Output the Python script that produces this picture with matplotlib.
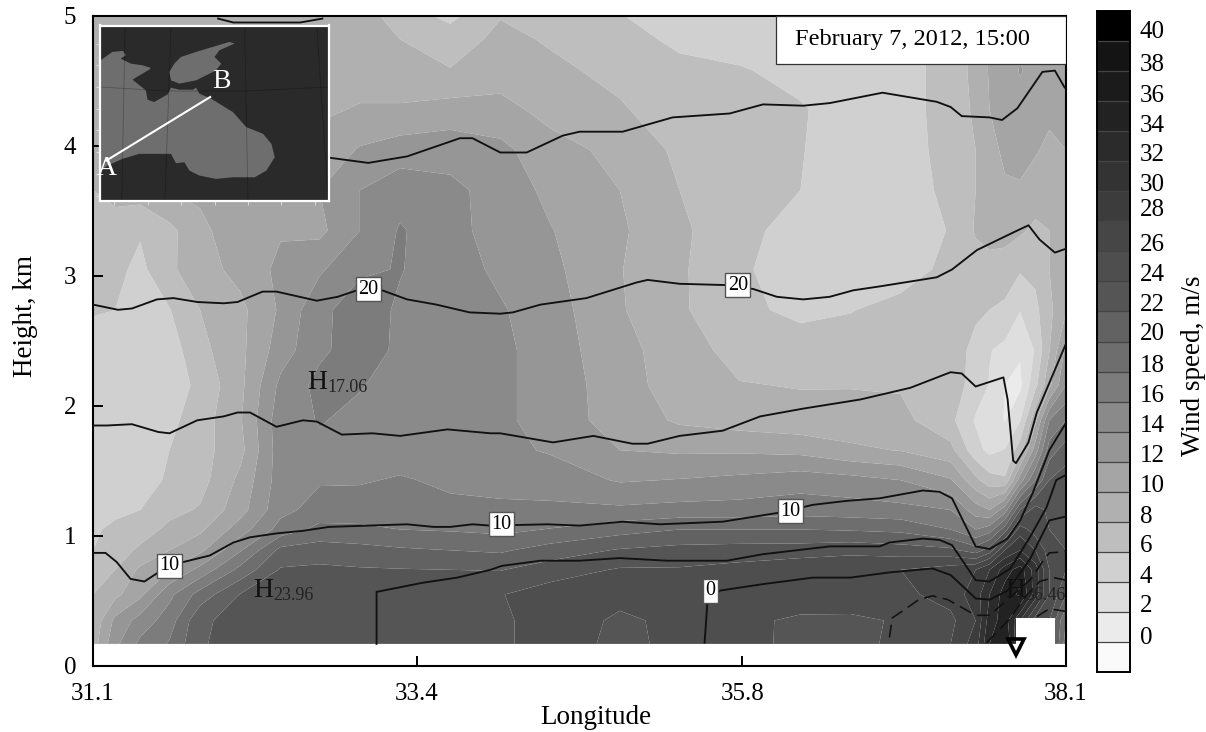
import matplotlib
matplotlib.use("Agg")
import numpy as np
import matplotlib.pyplot as plt
from matplotlib.colors import ListedColormap, BoundaryNorm
from matplotlib.patches import Rectangle, Polygon

plt.rcParams['font.family'] = ['Liberation Serif', 'DejaVu Serif']

# ---------- wind speed field ----------
lon_grid = [31.10, 31.26, 31.44, 31.65, 31.87, 32.16, 32.45, 32.73, 33.02, 33.31, 33.67, 34.03, 34.39, 34.89,
            35.32, 35.75, 36.19, 36.55, 36.91, 37.27, 37.45, 37.55, 37.66, 37.77, 37.88, 37.98, 38.10]
h_grid = [0.17, 0.35, 0.55, 0.74, 0.89, 1.05, 1.20, 1.43, 1.66, 1.89, 2.16, 2.43, 2.74, 3.05, 3.35, 3.66,
          3.97, 4.28, 4.58, 4.82, 5.00]
speed_h017 = [9, 13.5, 16.5, 18.2, 21.8, 22.8, 23, 23, 23.2, 23.2, 23.2, 23.6, 25, 23.5, 24.5, 24.5, 23.6, 23.6, 24.3, 26, 29, 34, 36, 30, 25, 24, 17]
speed_h035 = [8.5, 12.5, 14.8, 17, 21.6, 22.8, 23, 23, 23, 23, 23, 23.6, 25, 23.7, 24.4, 24.4, 23.7, 23.6, 24.2, 25.5, 28, 33, 35, 30, 25, 24, 18]
speed_h055 = [8, 9.5, 11.5, 15.5, 18.8, 22.1, 23, 23, 23, 23, 23, 23.9, 25, 24.5, 24.6, 24.7, 25, 25.2, 25.5, 26.8, 29, 32, 35, 36.4, 31, 26, 22]
speed_h074 = [6.8, 8, 10.4, 12, 14.6, 18.6, 22.2, 22.4, 22.2, 22.1, 22, 21.9, 23, 24.2, 24.2, 24.7, 25.5, 25.7, 26, 27, 28, 30, 33, 35, 31, 26, 24]
speed_h089 = [6, 7, 8.4, 10, 11.5, 15.8, 20.6, 21, 20.7, 20.3, 20, 19.7, 20.9, 22.2, 22.7, 22.9, 23, 23.4, 23, 22.5, 21, 23, 28, 30, 28, 25, 24]
speed_h105 = [5.6, 6.6, 7, 8.5, 9.6, 13, 16.8, 18.6, 18.4, 18, 17.8, 17.5, 18.1, 19.2, 20, 20, 20, 19.8, 19.5, 18, 16, 17, 21, 27, 25, 24, 24]
speed_h120 = [5.2, 5.4, 6, 7.4, 8.2, 11.2, 15.4, 16.8, 17, 17.2, 16.5, 16.3, 16.4, 16.4, 16.7, 16.8, 17.1, 16.9, 16.6, 16, 13, 12, 15, 22, 25, 23.5, 24]
speed_h143 = [5.2, 5.3, 5.4, 6.2, 7.2, 10.5, 15, 15.8, 15.8, 16.2, 15.6, 15.5, 15.1, 13.8, 14.1, 14.5, 15.1, 14.7, 14, 12.2, 8.5, 6.8, 6.3, 13, 18, 22, 23]
speed_h166 = [4.8, 4.8, 5, 6, 7.2, 9.4, 15.1, 15.7, 15.2, 15, 14.8, 14.5, 13.8, 12, 11.7, 11.7, 11.4, 10.4, 9.9, 8.6, 4.7, 3.5, 4.1, 7, 13, 19, 21]
speed_h189 = [4.8, 4.8, 4.8, 5.5, 7, 9.8, 15.2, 16.1, 15.6, 15.2, 14.9, 14.5, 13, 11.2, 9.7, 9.1, 8.7, 8.8, 8.6, 6.5, 3.8, 3, 1.9, 3.9, 9.5, 16, 18]
speed_h216 = [4.8, 4.7, 4.7, 4.9, 6.5, 9.5, 14.5, 16.6, 16.1, 15.4, 14.9, 14.4, 13.2, 10.9, 9, 8.1, 7.9, 7.9, 7.8, 7.3, 5, 3.9, 2, 1.6, 5.5, 9.5, 14]
speed_h243 = [5, 5, 4.8, 5, 7.4, 9.5, 13, 15.6, 17, 15.6, 15, 14.5, 13, 10.7, 8.9, 7.3, 7, 7, 7, 6.9, 5.5, 4.1, 3.5, 2.2, 4.2, 7.9, 12.5]
speed_h274 = [6.2, 6, 4.9, 5.9, 8, 9.5, 12.3, 15.5, 17, 15.7, 15.2, 14.2, 12.9, 10.2, 8.3, 6.5, 5.5, 5.9, 6.7, 7, 6.3, 6, 5.6, 4.1, 5.5, 7.5, 9.8]
speed_h305 = [7.5, 6.5, 5.5, 7.6, 9.2, 10.6, 12.5, 13.7, 15.7, 16.1, 14.9, 13.6, 12.5, 10.1, 8.3, 6.3, 5, 5, 5, 6.6, 7.2, 7.2, 7.1, 6.2, 6.5, 8, 10]
speed_h335 = [7.5, 6.6, 6.2, 7.5, 9.4, 11.5, 11.8, 11.5, 14, 16.2, 14.7, 13.1, 12.1, 10.3, 8.4, 6.6, 5.2, 5, 5, 6.1, 8.2, 8.8, 8.7, 8.3, 7.6, 8, 9.5]
speed_h366 = [8, 9, 9, 10, 10.5, 11, 11.5, 12, 14, 15.2, 14.5, 13.2, 11.5, 10, 8, 6.5, 6, 5, 5, 6.5, 8, 9, 9.8, 9.8, 9, 8.7, 10]
speed_h397 = [9, 10, 10, 10.5, 10.5, 10.5, 10.5, 10.5, 12.2, 13, 13.2, 12.5, 10.8, 9.4, 7.6, 6.5, 6.1, 5, 5, 6.8, 8, 9.5, 10.3, 10.6, 10.2, 9.5, 10]
speed_h428 = [10, 10, 10, 10, 10, 10, 10, 9.8, 10.1, 10.2, 10.8, 10.7, 9.3, 8.2, 7, 6.5, 6.2, 5, 5, 7, 8.3, 10, 11, 11, 10.5, 10.5, 10.3]
speed_h458 = [9.5, 9.5, 9.5, 9.5, 9.5, 9.5, 9.5, 9.5, 9.5, 9, 8.1, 9, 8.4, 7.5, 6.5, 6.2, 5.3, 5, 5, 7, 8.5, 10.2, 10.5, 12.2, 11, 11, 10.5]
speed_h482 = [9.5, 9.5, 9.5, 9.5, 9.5, 9.5, 9.5, 9.5, 9, 8, 7, 8.5, 7.8, 6.7, 5.6, 5, 5, 5, 5, 7, 8.5, 10.2, 10.5, 11.5, 11, 11, 10.5]
speed_h500 = [9, 9, 9, 9, 9, 9, 9, 9, 9, 7, 5.5, 7.9, 7.2, 6.1, 5, 4.8, 5, 5, 5, 6.5, 8.2, 10.2, 10.5, 11, 12, 11, 10.5]

# ---------- isolines ----------
line_top_lon = [32.80, 33.08, 33.36, 33.74, 33.83, 34.03, 34.22, 34.48, 34.60, 34.91, 35.27, 35.68, 35.92, 36.21, 36.40, 36.78, 37.17, 37.27, 37.35, 37.55, 37.64, 37.75, 37.93, 38.02, 38.09]
line_top_h = [3.91, 3.87, 3.92, 4.06, 4.06, 3.95, 3.95, 4.08, 4.11, 4.11, 4.22, 4.25, 4.32, 4.31, 4.33, 4.41, 4.34, 4.30, 4.23, 4.22, 4.20, 4.29, 4.57, 4.58, 4.45]
line_arc_lon = [32.00, 32.11, 32.25, 32.59, 32.75]
line_arc_h = [4.98, 4.95, 4.95, 4.95, 4.98]
line_20_lon = [31.10, 31.28, 31.38, 31.56, 31.68, 31.85, 32.04, 32.14, 32.32, 32.42, 32.71, 32.86, 33.00, 33.18, 33.36, 33.57, 33.81, 34.03, 34.12, 34.32, 34.65, 35.01, 35.09, 35.32, 35.66, 35.85, 36.02, 36.21, 36.40, 36.57, 36.76, 37.17, 37.28, 37.46, 37.75, 37.83, 37.91, 38.02, 38.10]
line_20_h = [2.78, 2.74, 2.75, 2.82, 2.83, 2.80, 2.79, 2.80, 2.88, 2.88, 2.81, 2.84, 2.89, 2.89, 2.82, 2.78, 2.72, 2.71, 2.72, 2.78, 2.83, 2.95, 2.97, 2.94, 2.93, 2.90, 2.84, 2.82, 2.84, 2.89, 2.92, 2.99, 3.05, 3.20, 3.35, 3.39, 3.28, 3.18, 3.21]
line_mid_lon = [31.10, 31.20, 31.38, 31.57, 31.65, 31.85, 32.04, 32.14, 32.23, 32.42, 32.61, 32.71, 32.89, 33.11, 33.31, 33.65, 33.96, 34.03, 34.41, 34.70, 34.98, 35.09, 35.32, 35.63, 35.90, 36.21, 36.62, 36.98, 37.27, 37.35, 37.45, 37.65, 37.68, 37.72, 37.74, 37.83, 37.89, 38.10]
line_mid_h = [1.85, 1.85, 1.86, 1.80, 1.79, 1.89, 1.92, 1.95, 1.95, 1.84, 1.89, 1.88, 1.78, 1.79, 1.77, 1.82, 1.79, 1.79, 1.72, 1.77, 1.71, 1.71, 1.77, 1.81, 1.92, 1.98, 2.05, 2.14, 2.26, 2.25, 2.15, 2.22, 2.05, 1.58, 1.56, 1.72, 1.95, 2.48]
line_10_lon = [31.10, 31.19, 31.27, 31.37, 31.47, 31.57, 31.75, 31.94, 32.11, 32.23, 32.42, 32.61, 32.80, 33.36, 33.55, 33.67, 33.83, 33.96, 34.37, 34.60, 34.91, 35.18, 35.63, 36.04, 36.28, 36.52, 36.76, 37.07, 37.19, 37.28, 37.45, 37.55, 37.68, 37.77, 37.86, 37.98, 38.10]
line_10_h = [0.87, 0.87, 0.80, 0.67, 0.65, 0.72, 0.80, 0.85, 0.95, 0.99, 1.02, 1.04, 1.07, 1.09, 1.07, 1.07, 1.09, 1.08, 1.09, 1.08, 1.11, 1.09, 1.11, 1.18, 1.24, 1.27, 1.29, 1.35, 1.34, 1.29, 0.92, 0.90, 0.98, 1.12, 1.33, 1.66, 1.87]
line_low_lon = [33.14, 33.14, 33.47, 33.72, 33.96, 34.04, 34.32, 34.60, 34.89, 35.23, 35.66, 35.92, 36.40, 36.76, 36.83, 37.07, 37.19, 37.28, 37.45, 37.55, 37.70, 37.84, 37.96, 38.03, 38.10]
line_low_h = [0.17, 0.57, 0.64, 0.68, 0.74, 0.77, 0.81, 0.81, 0.83, 0.81, 0.81, 0.86, 0.92, 0.92, 0.95, 0.98, 0.97, 0.93, 0.66, 0.65, 0.75, 0.99, 1.22, 1.43, 1.47]
line_0_lon = [35.50, 35.52, 35.61, 35.92, 36.28, 36.55, 36.83, 37.14, 37.27, 37.45, 37.55, 37.68, 37.84, 37.98, 38.10]
line_0_h = [0.18, 0.49, 0.58, 0.63, 0.68, 0.68, 0.72, 0.75, 0.70, 0.52, 0.51, 0.58, 0.82, 1.12, 1.15]
dash1_lon = [36.83, 36.85, 36.92, 37.04, 37.14, 37.25, 37.45, 37.55, 37.70, 37.84, 37.93, 37.98, 38.10]
dash1_h = [0.22, 0.37, 0.42, 0.51, 0.54, 0.51, 0.39, 0.39, 0.53, 0.66, 0.80, 0.87, 0.88]
dash2_lon = [37.53, 37.63, 37.70, 37.79, 37.91, 38.01, 38.10]
dash2_h = [0.18, 0.29, 0.37, 0.51, 0.65, 0.68, 0.66]
dash3_lon = [37.89, 37.98, 38.10]
dash3_h = [0.38, 0.44, 0.42]

# ---------- texts / scale ----------
levels = list(range(-2, 44, 2))
grays = ['#FAFAFA', '#EBEBEB', '#DEDEDE', '#D0D0D0', '#BEBEBE', '#B0B0B0', '#A5A5A5', '#969696', '#8A8A8A', '#7C7C7C',
         '#6E6E6E', '#626262', '#555555', '#4E4E4E', '#464646', '#3C3C3C', '#333333', '#2B2B2B', '#222222', '#1B1B1B',
         '#141414', '#000000']
cbar_labels = ['0', '2', '4', '6', '8', '10', '12', '14', '16', '18', '20', '22', '24', '26', '28', '30', '32', '34', '36', '38', '40']
cbar_label_pos = [0.4, 2.53, 4.47, 6.53, 8.47, 10.53, 12.53, 14.53, 16.53, 18.53, 20.67, 22.6, 24.6, 26.6, 28.93, 30.6, 32.6, 34.53, 36.53, 38.6, 40.8]
x_ticks = [31.1, 33.43, 35.77, 38.1]
x_tick_labels = ['31.1', '33.4', '35.8', '38.1']
y_ticks = [0, 1, 2, 3, 4, 5]
iso_labels = [('20', 33.08, 2.90), ('20', 35.74, 2.93), ('10', 31.65, 0.77), ('10', 34.04, 1.09), ('10', 36.12, 1.19), ('0', 35.54, 0.58)]
centres = [('H', '17.06', 32.64, 2.18), ('H', '23.96', 32.25, 0.58), ('H', '36.46', 37.66, 0.58)]

# ---------- inset map (map units) ----------
sea_x = [305, 340, 372, 380, 365, 395, 430, 455, 450, 400, 440, 445, 465, 505, 515, 540, 580, 590, 600, 635, 700, 740, 790, 815, 825, 800, 765, 700, 650, 600, 570, 555, 530, 515, 420, 370, 325, 305]
sea_y = [180, 155, 152, 165, 175, 190, 195, 203, 208, 238, 270, 298, 305, 282, 262, 268, 268, 262, 280, 295, 335, 380, 400, 430, 470, 510, 530, 530, 535, 525, 510, 485, 488, 460, 460, 475, 495, 510]
azov_x = [705, 690, 640, 590, 545, 525, 510, 515, 540, 590, 650, 665, 645, 660]
azov_y = [130, 125, 140, 155, 170, 190, 215, 240, 250, 240, 210, 190, 170, 150]
route_x = [322, 632]
route_y = [480, 290]
meridian_x = [[378, 368], [515, 497], [735, 745], [950, 985]]
meridian_y = [[76, 601], [76, 601], [76, 601], [76, 601]]
parallel_x = [305, 500, 740, 985]
parallel_y = [260, 272, 272, 260]

# ---------- figure ----------
W, H = 1206, 732
fig = plt.figure(figsize=(W / 100, H / 100), dpi=100, facecolor='white')
def rect(l, t, r, b):
    return [l / W, 1 - b / H, (r - l) / W, (b - t) / H]

ax = fig.add_axes(rect(93, 16, 1066, 666))
speed = np.array([speed_h017, speed_h035, speed_h055, speed_h074, speed_h089, speed_h105, speed_h120, speed_h143,
                  speed_h166, speed_h189, speed_h216, speed_h243, speed_h274, speed_h305, speed_h335, speed_h366,
                  speed_h397, speed_h428, speed_h458, speed_h482, speed_h500])
cmap = ListedColormap(grays)
norm = BoundaryNorm(levels, cmap.N)
ax.contourf(lon_grid, h_grid, speed, levels=levels, cmap=cmap, norm=norm, antialiased=True)
ax.add_patch(Rectangle((37.74, 0.17), 0.28, 0.20, fc='white', ec='none', zorder=2))

for xs, ys in [(line_top_lon, line_top_h), (line_arc_lon, line_arc_h), (line_20_lon, line_20_h),
               (line_mid_lon, line_mid_h), (line_10_lon, line_10_h), (line_low_lon, line_low_h),
               (line_0_lon, line_0_h)]:
    ax.plot(xs, ys, color='#111111', lw=1.35, zorder=3)
for xs, ys in [(dash1_lon, dash1_h), (dash2_lon, dash2_h), (dash3_lon, dash3_h)]:
    ax.plot(xs, ys, color='#111111', lw=1.15, ls=(0, (8, 4)), zorder=3)

for s, x, y in iso_labels:
    ax.text(x, y, s, ha='center', va='center', fontsize=14.5, color='black', zorder=5,
            bbox=dict(boxstyle='square,pad=0.12', fc='white', ec='#555555', lw=1))
for h, sub, x, y in centres:
    t = ax.text(x, y, h, ha='left', va='center', fontsize=20, color='#111111', zorder=4)
    ax.annotate(sub, xy=(1, 0), xycoords=t, xytext=(0, -1), textcoords='offset points',
                ha='left', va='bottom', fontsize=13, color='#222222', zorder=4)

ax.plot([37.74], [0.145], marker='v', ms=11, mfc='none', mec='black', mew=2.6, clip_on=False, zorder=6)

# date box
ax.add_patch(Rectangle((0.702, 0.9265), 0.298, 0.0735, transform=ax.transAxes, fc='white', ec='#333333', lw=0.9, zorder=6))
ax.text(0.7215, 0.9635, 'February 7, 2012, 15:00', transform=ax.transAxes, ha='left', va='center', fontsize=17.6, zorder=7)

ax.set_xlim(31.1, 38.1)
ax.set_ylim(0, 5)
ax.set_xticks(x_ticks, x_tick_labels)
ax.set_yticks(y_ticks, [str(v) for v in y_ticks])
ax.tick_params(axis='both', direction='in', length=7.5, width=1.4, labelsize=18, color='black')
ax.tick_params(axis='x', pad=12)
ax.tick_params(axis='y', pad=12)
for s in ax.spines.values():
    s.set_linewidth(1.5)
fig.text(596 / W, 1 - 717 / H, 'Longitude', ha='center', va='center', fontsize=19.5)
fig.text(25 / W, 1 - 316 / H, 'Height, km', rotation=90, ha='center', va='center', fontsize=19.5)

# inset
ins = fig.add_axes(rect(100, 25.5, 329, 201), zorder=10)
ins.set_facecolor('#2A2A2A')
ins.add_patch(Polygon(np.column_stack([sea_x, sea_y]), closed=True, fc='#6E6E6E', ec='none'))
ins.add_patch(Polygon(np.column_stack([azov_x, azov_y]), closed=True, fc='#6E6E6E', ec='none'))
for mx, my in zip(meridian_x, meridian_y):
    ins.plot(mx, my, color='black', lw=0.6, alpha=0.25)
ins.plot(parallel_x, parallel_y, color='black', lw=0.6, alpha=0.25)
ins.plot(route_x, route_y, color='white', lw=1.5)
ins.text(322, 503, 'A', color='white', fontsize=20, ha='center', va='center')
ins.text(665, 245, 'B', color='white', fontsize=20, ha='center', va='center')
ins.set_xlim(303, 987)
ins.set_ylim(601, 76)
ins.set_xticks([345, 445, 545, 645, 745, 845, 945], [])
ins.set_yticks([130, 195, 260, 325, 390, 455, 520, 585], [])
ins.tick_params(length=3, width=0.7, color='#DDDDDD', direction='out')
for s in ins.spines.values():
    s.set_color('white')
    s.set_linewidth(1.6)

# colour scale
cax = fig.add_axes(rect(1097, 11, 1130, 672))
cax.pcolormesh([0, 1], levels, np.arange(len(grays)).reshape(-1, 1), cmap=cmap, vmin=-0.5, vmax=len(grays) - 0.5,
               shading='flat')
cax.hlines(levels[1:-1], 0, 1, color='#444444', lw=0.9)
cax.set_xlim(0, 1)
cax.set_ylim(-2, 42)
cax.set_xticks([])
cax.yaxis.tick_right()
cax.set_yticks(cbar_label_pos, cbar_labels)
cax.tick_params(axis='y', length=0, pad=7, labelsize=18)
for s in cax.spines.values():
    s.set_linewidth(1.4)
fig.text(1193 / W, 1 - 366 / H, 'Wind speed, m/s', rotation=90, ha='center', va='center', fontsize=19.5)

fig.savefig('out.png', dpi=100, facecolor='white')
